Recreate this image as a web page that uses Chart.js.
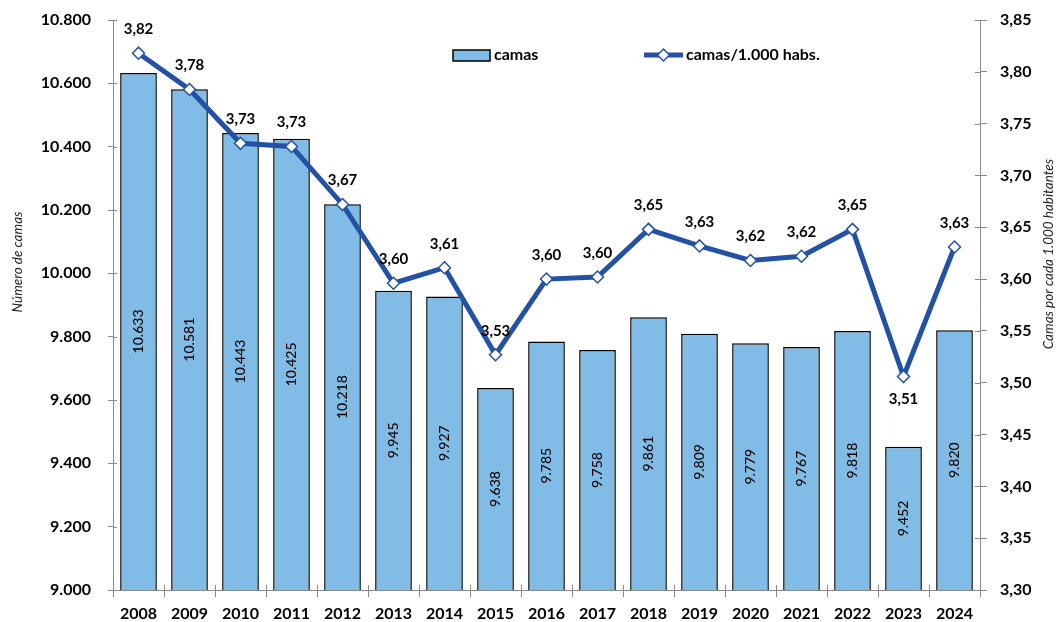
<!DOCTYPE html>
<html>
<head>
<meta charset="utf-8">
<script src="https://cdn.jsdelivr.net/npm/chart.js@4.4.1/dist/chart.umd.min.js"></script>
<style>
  html, body { margin: 0; padding: 0; background: #fff; }
  #wrap { width: 1058px; height: 622px; position: relative; }
</style>
</head>
<body>
<div id="wrap"><canvas id="c"></canvas></div>
<script>
// --- data ------------------------------------------------------------------
var years = ["2008", "2009", "2010", "2011", "2012", "2013", "2014", "2015", "2016",
  "2017", "2018", "2019", "2020", "2021", "2022", "2023", "2024"];
var camas = [10633, 10581, 10443, 10425, 10218, 9945, 9927, 9638, 9785,
  9758, 9861, 9809, 9779, 9767, 9818, 9452, 9820];
var camasPorMil = [3.818, 3.783, 3.731, 3.728, 3.672, 3.596, 3.611, 3.527, 3.600,
  3.602, 3.648, 3.632, 3.618, 3.622, 3.648, 3.506, 3.631];

var FONT = "Lato, 'Open Sans', sans-serif";
var BAR_FILL = "#80BCE6";
var LINE_BLUE = "#2352A5";
var AXIS_GREY = "#8a8a8a";

function miles(v) {
  var s = String(Math.round(v));
  return s.replace(/\B(?=(\d{3})+(?!\d))/g, ".");
}
function coma(v) { return v.toFixed(2).replace(".", ","); }

// fixed box sizes so the plot area lands where the reference has it
function fitY(w) {
  return function (s) { s.width = w; s.paddingTop = 0; s.paddingBottom = 0; };
}

// labels on bars / points, axis titles, legend, inward tick marks
var extras = {
  id: "extras",
  afterDatasetsDraw: function (chart) {
    var ctx = chart.ctx;
    var ys = chart.scales.y, xs = chart.scales.x;
    var pts = chart.getDatasetMeta(0).data;
    var minIdx = camasPorMil.indexOf(Math.min.apply(null, camasPorMil));
    ctx.save();
    // bar values, rotated, centred in the bar
    ctx.fillStyle = "#000";
    ctx.font = "500 14px " + FONT;
    ctx.textAlign = "center";
    ctx.textBaseline = "middle";
    camas.forEach(function (v, i) {
      var x = xs.getPixelForValue(i);
      var yc = (ys.getPixelForValue(v) + ys.getPixelForValue(ys.min)) / 2;
      ctx.save();
      ctx.translate(x, yc);
      ctx.rotate(-Math.PI / 2);
      ctx.fillText(miles(v), 0, 0);
      ctx.restore();
    });
    // ratio labels
    ctx.font = "bold 15px " + FONT;
    pts.forEach(function (p, i) {
      var dy = i === minIdx ? 23 : -24;
      ctx.fillText(coma(camasPorMil[i]), p.x, p.y + dy);
    });
    ctx.restore();
  },
  afterDraw: function (chart) {
    var ctx = chart.ctx, a = chart.chartArea;
    ctx.save();
    // inward halves of the axis tick marks
    ctx.strokeStyle = AXIS_GREY;
    ctx.lineWidth = 1;
    chart.scales.y.ticks.forEach(function (t) {
      var y = Math.round(chart.scales.y.getPixelForValue(t.value)) + 0.5;
      ctx.beginPath(); ctx.moveTo(a.left, y); ctx.lineTo(a.left + 4, y); ctx.stroke();
    });
    chart.scales.y2.ticks.forEach(function (t) {
      var y = Math.round(chart.scales.y2.getPixelForValue(t.value)) + 0.5;
      ctx.beginPath(); ctx.moveTo(a.right, y); ctx.lineTo(a.right - 5, y); ctx.stroke();
    });
    var step = (a.right - a.left) / years.length;
    for (var i = 0; i <= years.length; i++) {
      var x = Math.round(a.left + i * step) + 0.5;
      ctx.beginPath(); ctx.moveTo(x, a.bottom); ctx.lineTo(x, a.bottom - 5); ctx.stroke();
    }

    // axis titles
    ctx.fillStyle = "#222";
    ctx.font = "italic 13.5px " + FONT;
    ctx.textAlign = "center";
    ctx.textBaseline = "middle";
    ctx.save();
    ctx.translate(18, 262); ctx.rotate(-Math.PI / 2);
    ctx.fillText("Número de camas", 0, 0);
    ctx.restore();
    ctx.save();
    ctx.translate(1049, 254); ctx.rotate(-Math.PI / 2);
    ctx.fillText("Camas por cada 1.000 habitantes", 0, 0);
    ctx.restore();

    // legend
    var ly = a.top + 35;
    ctx.fillStyle = BAR_FILL;
    ctx.strokeStyle = "#000";
    ctx.lineWidth = 1.5;
    ctx.fillRect(453, ly - 5, 37, 11);
    ctx.strokeRect(453, ly - 5, 37, 11);
    ctx.fillStyle = "#000";
    ctx.font = "bold 16px " + FONT;
    ctx.textAlign = "left";
    ctx.fillText("camas", 494, ly);

    ctx.strokeStyle = LINE_BLUE;
    ctx.lineWidth = 5;
    ctx.beginPath(); ctx.moveTo(644, ly); ctx.lineTo(683, ly); ctx.stroke();
    ctx.fillStyle = "#fff";
    ctx.lineWidth = 1.5;
    ctx.beginPath();
    ctx.moveTo(663.5, ly - 6); ctx.lineTo(669.5, ly); ctx.lineTo(663.5, ly + 6); ctx.lineTo(657.5, ly);
    ctx.closePath(); ctx.fill(); ctx.stroke();
    ctx.fillStyle = "#000";
    ctx.fillText("camas/1.000 habs.", 686, ly);
    ctx.restore();
  }
};

new Chart(document.getElementById("c"), {
  data: {
    labels: years,
    datasets: [
      {
        type: "line", label: "camas/1.000 habs.", data: camasPorMil, yAxisID: "y2",
        borderColor: LINE_BLUE, borderWidth: 5, tension: 0,
        pointStyle: "rectRot", pointRadius: 6, pointBorderWidth: 1.5,
        pointBackgroundColor: "#fff", pointBorderColor: LINE_BLUE, order: 0
      },
      {
        type: "bar", label: "camas", data: camas, yAxisID: "y",
        backgroundColor: BAR_FILL, borderColor: "#000", borderWidth: 1.5,
        barPercentage: 0.72, categoryPercentage: 1.0, order: 1
      }
    ]
  },
  options: {
    responsive: true, maintainAspectRatio: false, animation: false,
    layout: { padding: { top: 20, bottom: 0, left: 0, right: 0 } },
    plugins: { legend: { display: false }, tooltip: { enabled: false } },
    scales: {
      x: {
        offset: true,
        grid: { display: true, drawOnChartArea: false, offset: true, tickLength: 7,
          color: AXIS_GREY },
        border: { color: AXIS_GREY, width: 1 },
        ticks: { color: "#000", font: { family: FONT, size: 16, weight: "bold" },
          padding: 7, maxRotation: 0 },
        afterFit: function (s) { s.height = 32; s.paddingLeft = 0; s.paddingRight = 0; }
      },
      y: {
        position: "left", min: 9000, max: 10800,
        ticks: { stepSize: 200, color: "#000", padding: 17,
          font: { family: FONT, size: 16, weight: "bold" },
          callback: function (v) { return miles(v); } },
        grid: { drawOnChartArea: false, tickLength: 5, color: AXIS_GREY },
        border: { color: AXIS_GREY, width: 1 },
        afterFit: fitY(113)
      },
      y2: {
        position: "right", min: 3.30, max: 3.85,
        ticks: { stepSize: 0.05, color: "#000", padding: 13,
          font: { family: FONT, size: 16, weight: "bold" },
          callback: function (v) { return coma(v); } },
        grid: { drawOnChartArea: false, tickLength: 7, color: AXIS_GREY },
        border: { color: AXIS_GREY, width: 1 },
        afterFit: fitY(78)
      }
    }
  },
  plugins: [extras]
});
</script>
</body>
</html>
